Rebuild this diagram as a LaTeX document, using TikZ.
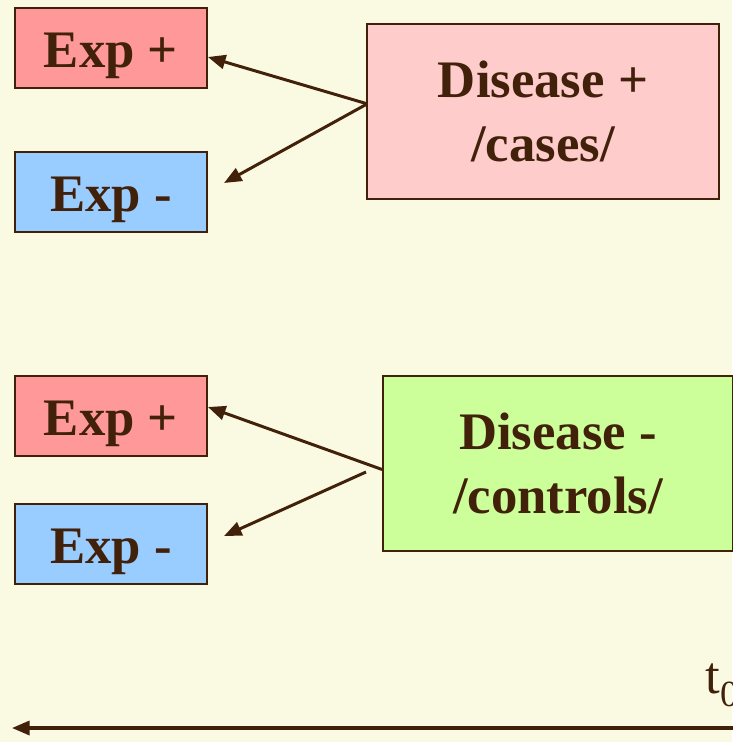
\documentclass[tikz,border=0pt]{standalone}
\usepackage{fontspec}
\setmainfont{Liberation Serif}
\usetikzlibrary{arrows.meta, calc}
\definecolor{bgcream}{HTML}{FAFAE3}
\definecolor{inkbrown}{HTML}{42210B}
\definecolor{expplus}{HTML}{FF9999}
\definecolor{expminus}{HTML}{99CCFF}
\definecolor{casefill}{HTML}{FFCCCC}
\definecolor{ctrlfill}{HTML}{CCFF99}
\tikzset{
  expbox/.style={draw=inkbrown, line width=1.1pt, text=inkbrown,
    minimum width=3.84cm, minimum height=1.6cm, inner sep=0pt,
    text height=22.7pt, text depth=0pt,
    font=\fontsize{30}{36}\selectfont\bfseries},
  disbox/.style={draw=inkbrown, line width=1.1pt, text=inkbrown,
    minimum width=7.04cm, minimum height=3.5cm, inner sep=0pt, align=center,
    font=\fontsize{30}{36}\selectfont\bfseries},
  pointer/.style={draw=inkbrown, line width=1.7pt,
    -{Triangle[length=10pt,width=8pt]}}
}

\begin{document}
\begin{tikzpicture}[x=0.02cm, y=-0.02cm]
\fill[bgcream] (0,0) rectangle (732,742);
\useasboundingbox (0,0) rectangle (732,742);
% cases
\node[expbox, fill=expplus] (expA) at (111,48) {Exp +};
\node[expbox, fill=expminus] (expB) at (111,192) {Exp -};
\node[disbox, fill=casefill] (disA) at (543,111.5) {Disease +\\/cases/};
% controls
\node[expbox, fill=expplus] (expC) at (111,416) {Exp +};
\node[expbox, fill=expminus] (expD) at (111,544) {Exp -};
\node[disbox, fill=ctrlfill, minimum width=7cm] (disB) at (558,463.5) {Disease -\\/controls/};
\coordinate (tipB) at (224,183);
\coordinate (tailD) at (366,472);
\coordinate (tipD) at (224,536);
\draw[pointer] ($(disA.west)+(0,-8)$) -- ($(expA.east)+(0,9)$);
\draw[pointer] ($(disA.west)+(0,-7)$) -- (tipB);
\draw[pointer] ($(disB.west)+(0,6)$) -- ($(expC.east)+(0,-9)$);
\draw[pointer] (tailD) -- (tipD);
% time axis
\node[anchor=base west, inner sep=0pt, text=inkbrown, font=\fontsize{30}{36}\selectfont]
  (tzero) at (705,693) {t\raisebox{-0.25em}{\fontsize{21}{21}\selectfont 0}};
\coordinate (axisR) at (745,728);
\coordinate (axisL) at (12,728);
\draw[pointer, line width=1.8pt] (axisR) -- (axisL);
\end{tikzpicture}
\end{document}
